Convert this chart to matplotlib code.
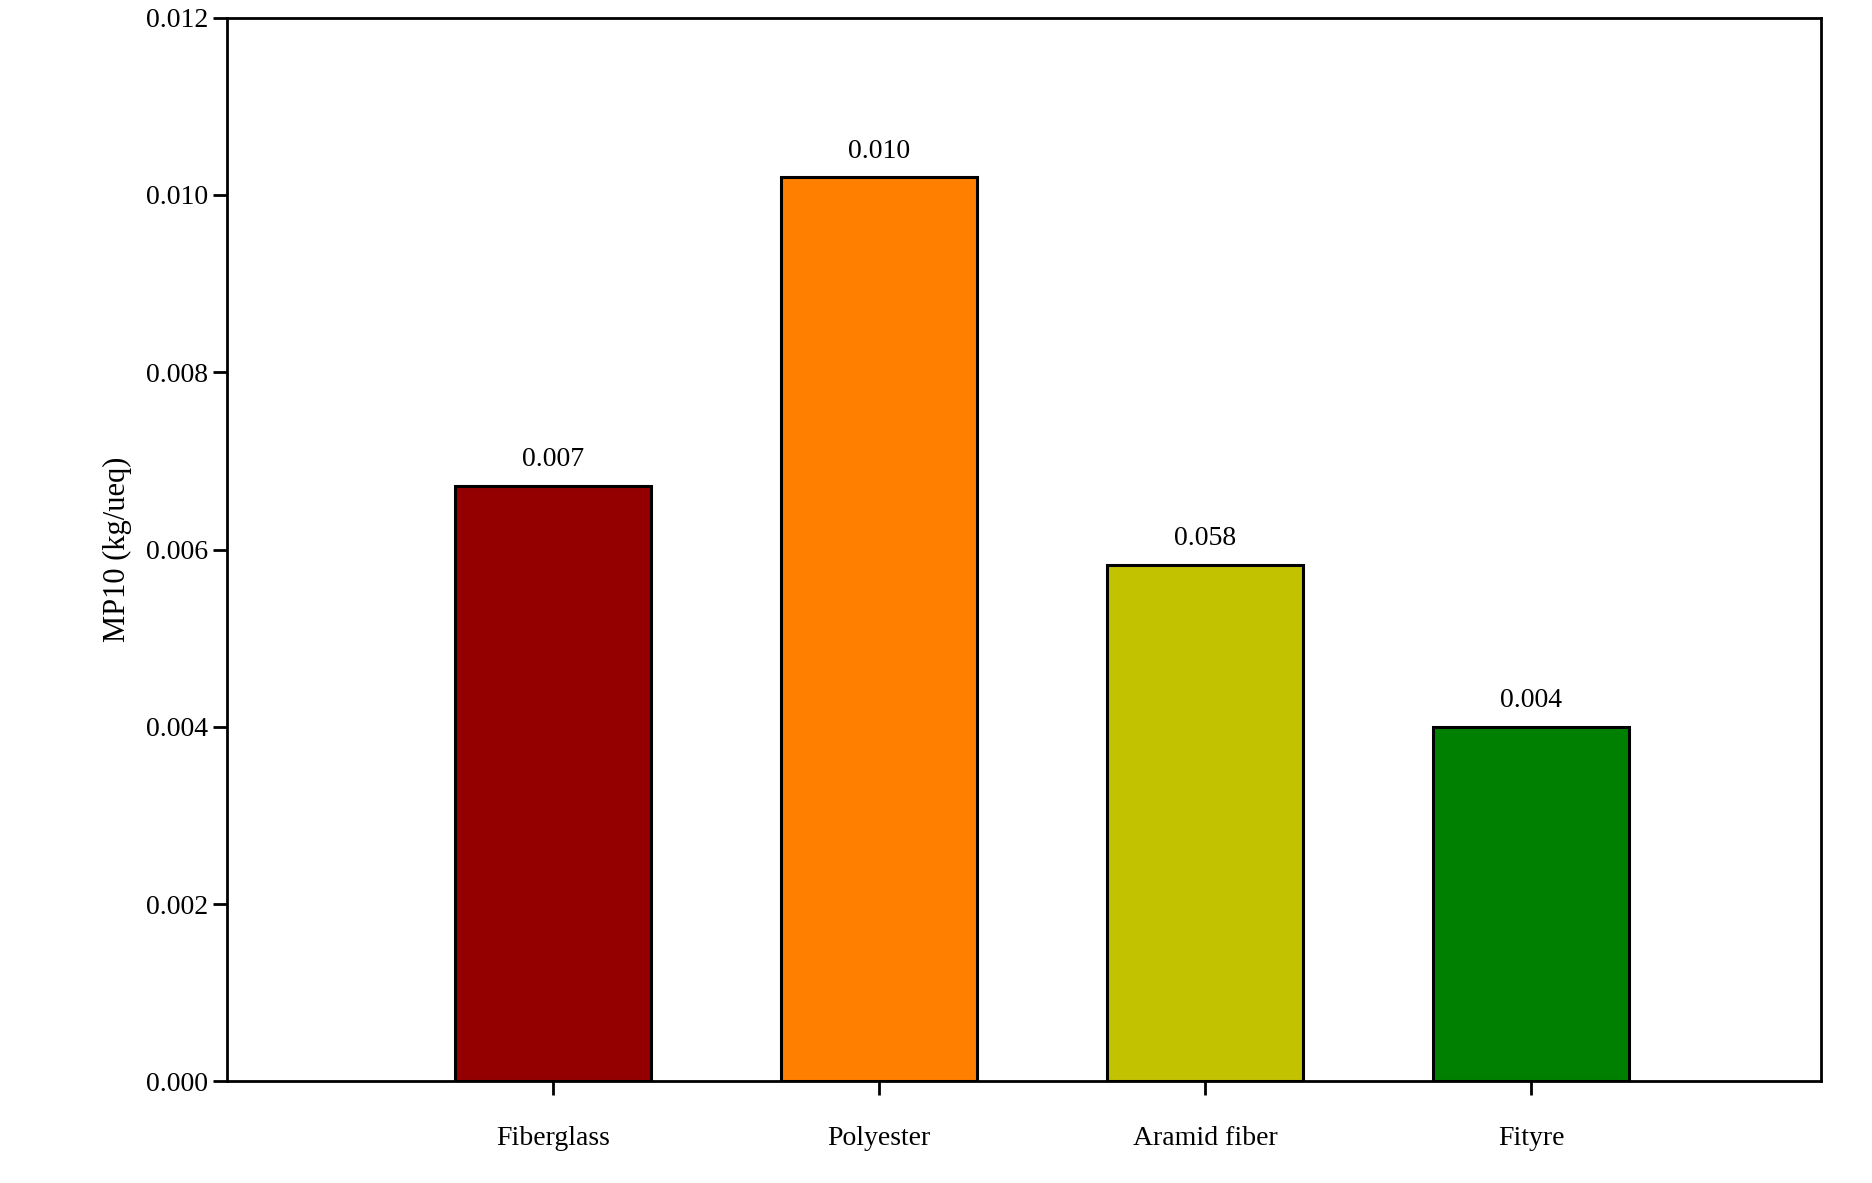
import matplotlib.pyplot as plt

plt.rcParams['font.family'] = ['Liberation Serif', 'DejaVu Serif']

materials = ['Fiberglass', 'Polyester', 'Aramid fiber', 'Fityre']
values = [0.00672, 0.0102, 0.00583, 0.0040]
labels = ['0.007', '0.010', '0.058', '0.004']
colors = ['#940000', '#ff8000', '#c2c200', '#008000']

fig = plt.figure(figsize=(18.72, 11.83), dpi=100)
ax = fig.add_axes([0.121, 0.086, 0.852, 0.899])

x = range(len(materials))
bars = ax.bar(x, values, width=0.6, color=colors, edgecolor='black', linewidth=2.2)
for xi, v, lab in zip(x, values, labels):
    ax.text(xi, v + 0.00015, lab, ha='center', va='bottom', fontsize=20)

ax.set_xlim(-1, 3.89)
ax.set_ylim(0, 0.012)
ax.set_yticks([0.000, 0.002, 0.004, 0.006, 0.008, 0.010, 0.012])
ax.set_yticklabels(['0.000', '0.002', '0.004', '0.006', '0.008', '0.010', '0.012'])
ax.set_xticks(list(x))
ax.set_xticklabels(materials)
ax.tick_params(axis='both', labelsize=20, width=2, length=10, direction='out')
ax.tick_params(axis='x', pad=22)
ax.set_ylabel('MP10 (kg/ueq)', fontsize=22, labelpad=10)
for s in ax.spines.values():
    s.set_linewidth(2)

fig.savefig('out.png', dpi=100)
